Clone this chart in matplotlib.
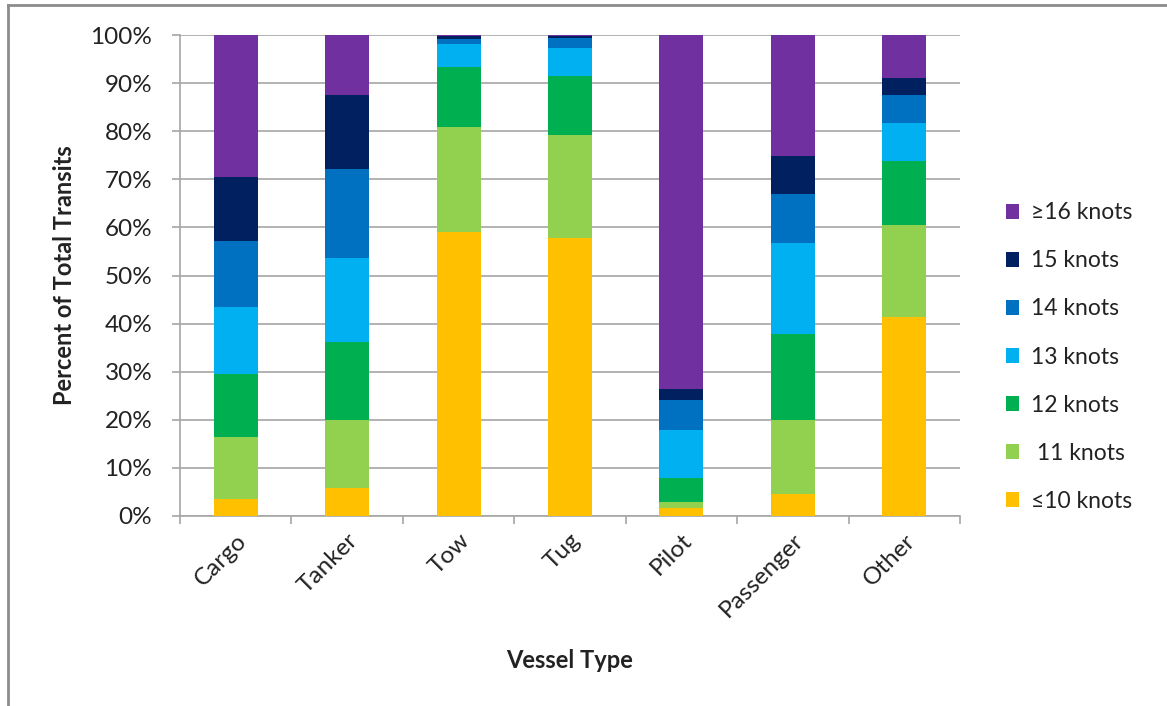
import matplotlib
matplotlib.use("Agg")
import matplotlib.pyplot as plt
from matplotlib.lines import Line2D
from matplotlib.patches import Patch
import numpy as np

plt.rcParams['font.family'] = ['Lato', 'DejaVu Sans']

vessel_types = ["Cargo", "Tanker", "Tow", "Tug", "Pilot", "Passenger", "Other"]
speed_bins = ["≤10 knots", " 11 knots", "12 knots", "13 knots", "14 knots", "15 knots", "≥16 knots"]

# Share of transits (%) in each speed bin, per vessel type
le10 = [3.6, 5.9, 59.1, 57.7, 1.7, 4.6, 41.3]
k11 = [12.8, 14.1, 21.8, 21.6, 1.3, 15.4, 19.1]
k12 = [13.2, 16.2, 12.5, 12.2, 5.0, 17.8, 13.4]
k13 = [13.9, 17.4, 4.7, 5.9, 9.9, 18.9, 8.0]
k14 = [13.7, 18.5, 1.1, 2.0, 6.3, 10.3, 5.8]
k15 = [13.3, 15.5, 0.6, 0.4, 2.2, 7.8, 3.5]
ge16 = [29.5, 12.4, 0.2, 0.2, 73.6, 25.2, 8.9]

series = [le10, k11, k12, k13, k14, k15, ge16]
colors = ["#FFC000", "#92D050", "#00B050", "#00B0F0", "#0070C0", "#002060", "#7030A0"]

fig = plt.figure(figsize=(11.67, 7.06), dpi=100)
ax = fig.add_axes([180 / 1167, 1 - 516 / 706, 780 / 1167, 481 / 706])

x = np.arange(len(vessel_types))
bottom = np.zeros(len(vessel_types))
handles = []
for vals, col, lab in zip(series, colors, speed_bins):
    v = np.array(vals, dtype=float)
    ax.bar(x, v, 0.395, bottom=bottom, color=col, edgecolor="none", zorder=3)
    bottom += v
    handles.append(Patch(facecolor=col, edgecolor="none", label=lab))

grid_c = "#a6a6a6"
text_c = "#222222"
ax.set_xlim(-0.5, len(vessel_types) - 0.5)
ax.set_ylim(0, 100)
ax.set_yticks(np.arange(0, 101, 10))
ax.set_yticklabels([f"{v}%" for v in range(0, 101, 10)])
ax.yaxis.grid(True, color=grid_c, linewidth=1.2, zorder=0)
ax.set_axisbelow(True)

# category boundaries carry the tick marks, labels sit at the centres
ax.set_xticks(np.arange(-0.5, len(vessel_types)), minor=False)
ax.set_xticklabels([])
ax.set_xticks(x, minor=True)
ax.set_xticklabels(vessel_types, minor=True, rotation=45, ha="right",
                   rotation_mode="anchor", fontsize=17.5, color=text_c)
ax.tick_params(axis="x", which="minor", length=0, pad=10)
ax.tick_params(axis="x", which="major", length=6, width=1.2, color=grid_c, direction="out")
ax.tick_params(axis="y", length=6, width=1.2, color=grid_c, direction="out",
               labelsize=17.5, labelcolor=text_c, pad=14)

for side in ("top", "right"):
    ax.spines[side].set_visible(False)
for side in ("left", "bottom"):
    ax.spines[side].set_color(grid_c)
    ax.spines[side].set_linewidth(1.2)

ax.set_ylabel("Percent of Total Transits", fontsize=17, fontweight="bold", color=text_c)
ax.yaxis.set_label_coords(-0.133, 0.5)
fig.text(570 / 1167, 1 - 660 / 706, "Vessel Type", fontsize=17, fontweight="bold",
         ha="center", va="center", color=text_c)

leg = fig.legend(handles=handles[::-1], loc="center left",
                 bbox_to_anchor=(985 / 1167, 1 - 357 / 706), frameon=False,
                 fontsize=16.5, handlelength=0.6, handleheight=0.6,
                 handletextpad=0.5, labelspacing=1.18)
for t in leg.get_texts():
    t.set_color(text_c)

# outer frame of the chart area
frame_c = "#8c8c8c"
fig.add_artist(Line2D([8 / 1167, 1.0], [1 - 5 / 706, 1 - 5 / 706],
                      transform=fig.transFigure, color=frame_c, linewidth=2))
fig.add_artist(Line2D([8 / 1167, 8 / 1167], [1 - 5 / 706, 0.0],
                      transform=fig.transFigure, color=frame_c, linewidth=2))

fig.savefig("out.png", dpi=100)
